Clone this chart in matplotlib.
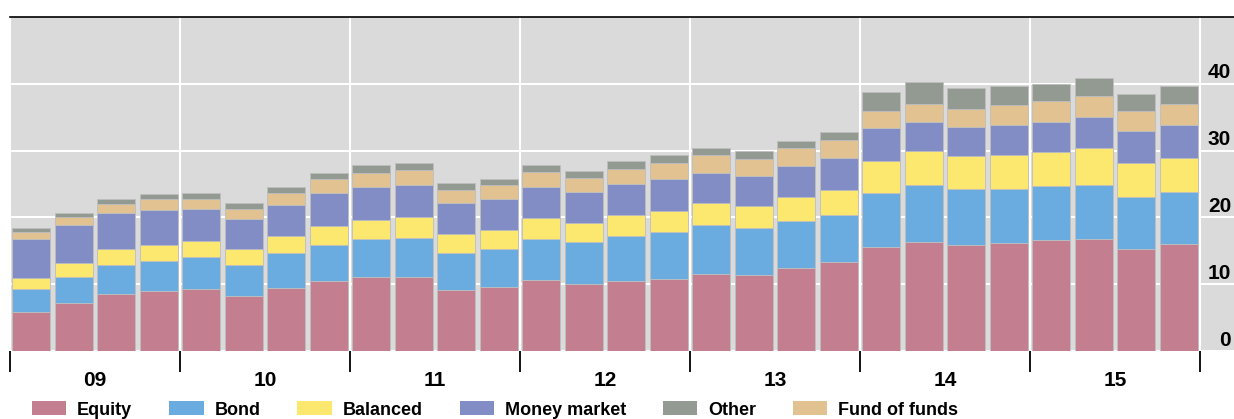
import matplotlib
matplotlib.use("Agg")
import matplotlib.pyplot as plt
from matplotlib.patches import Patch
from matplotlib.transforms import ScaledTranslation
import numpy as np

plt.rcParams['font.family'] = ['Liberation Sans', 'DejaVu Sans']

years = ["09", "10", "11", "12", "13", "14", "15"]

equity = [5.9, 7.2, 8.5, 9.0, 9.3, 8.2, 9.4, 10.5, 11.1, 11.1, 9.1, 9.6, 10.6, 10.0,
          10.5, 10.8, 11.5, 11.4, 12.4, 13.3, 15.6, 16.3, 15.9, 16.2, 16.6, 16.8, 15.2, 16.0]
bond = [3.4, 3.9, 4.4, 4.5, 4.7, 4.7, 5.2, 5.4, 5.6, 5.8, 5.6, 5.7, 6.2, 6.3,
        6.7, 7.0, 7.3, 7.0, 7.1, 7.1, 8.0, 8.5, 8.3, 8.1, 8.1, 8.1, 7.9, 7.8]
balanced = [1.7, 2.0, 2.3, 2.4, 2.5, 2.4, 2.6, 2.8, 2.9, 3.1, 2.8, 2.8, 3.1, 2.9,
            3.1, 3.1, 3.3, 3.3, 3.5, 3.7, 4.9, 5.1, 5.0, 5.0, 5.1, 5.5, 5.0, 5.1]
money_market = [5.8, 5.7, 5.4, 5.2, 4.8, 4.4, 4.6, 5.0, 5.0, 4.9, 4.7, 4.7, 4.6, 4.6,
                4.7, 4.9, 4.6, 4.5, 4.7, 4.8, 4.9, 4.4, 4.4, 4.6, 4.5, 4.6, 4.8, 5.0]
fund_of_funds = [1.0, 1.2, 1.4, 1.6, 1.5, 1.5, 1.8, 2.0, 2.1, 2.2, 1.9, 2.0, 2.3, 2.1,
                 2.3, 2.3, 2.6, 2.6, 2.7, 2.7, 2.5, 2.7, 2.6, 3.0, 3.1, 3.1, 3.0, 3.1]
other = [0.6, 0.7, 0.8, 0.8, 0.9, 0.9, 1.0, 1.0, 1.1, 1.1, 1.0, 1.0, 1.1, 1.0,
         1.1, 1.2, 1.1, 1.2, 1.1, 1.2, 2.8, 3.2, 3.1, 2.7, 2.6, 2.8, 2.6, 2.7]

series = [
    ("Equity", equity, "#C37F8F"),
    ("Bond", bond, "#6AACE0"),
    ("Balanced", balanced, "#FDE86F"),
    ("Money market", money_market, "#828DC5"),
    ("Fund of funds", fund_of_funds, "#E2C290"),
    ("Other", other, "#939A91"),
]
legend_order = ["Equity", "Bond", "Balanced", "Money market", "Other", "Fund of funds"]

W, H = 1234, 419
fig = plt.figure(figsize=(W / 100, H / 100), dpi=100)
ax = fig.add_axes([10 / W, (H - 351) / H, (W - 10) / W, (351 - 17) / H])
ax.set_facecolor("#DADADA")

n = len(equity)
x = np.arange(n)
bottom = np.zeros(n)
for name, vals, col in series:
    v = np.array(vals)
    ax.bar(x, v, bottom=bottom, width=0.89, color=col, edgecolor="#BEBEBE",
           linewidth=0.6, zorder=3)
    bottom += v

ax.set_xlim(-0.5, -0.5 + (W - 10) / 42.5)
ax.set_ylim(0, 50)

bounds = np.arange(-0.5, n, 4)
ax.set_xticks(bounds)
ax.set_xticklabels([])
ax.set_xticks(np.arange(1.5, n, 4), minor=True)
ax.set_xticklabels(years, minor=True, fontsize=15, fontweight="bold")
ax.tick_params(axis="x", which="major", length=15, width=1.3, color="black", direction="out")
ax.tick_params(axis="x", which="minor", length=0, pad=14.5)

ax.yaxis.tick_right()
ax.set_yticks([0, 10, 20, 30, 40])
ax.set_yticklabels(["0", "10", "20", "30", "40"], fontsize=15, fontweight="bold")
ax.tick_params(axis="y", length=0, pad=-2)
off = ScaledTranslation(0, 13 / 100, fig.dpi_scale_trans)
for lab in ax.get_yticklabels():
    lab.set_horizontalalignment("right")
    lab.set_transform(lab.get_transform() + off)

ax.set_axisbelow(True)
ax.grid(True, axis="y", color="white", linewidth=1.5, zorder=1)
ax.grid(True, axis="x", which="major", color="white", linewidth=1.5, zorder=1)

for s in ["left", "right", "bottom"]:
    ax.spines[s].set_visible(False)
ax.spines["top"].set_color("black")
ax.spines["top"].set_linewidth(1.2)

colmap = {name: col for name, _, col in series}
handles = [Patch(facecolor=colmap[nm], edgecolor="none", label=nm) for nm in legend_order]
fig.legend(handles=handles, loc="center left", bbox_to_anchor=(32 / W, (H - 410) / H),
           ncol=6, frameon=False, borderpad=0, borderaxespad=0,
           prop={"size": 13, "weight": "bold"},
           handlelength=1.9, handleheight=0.8, handletextpad=0.6, columnspacing=2.05)

fig.savefig("out.png", dpi=100)
